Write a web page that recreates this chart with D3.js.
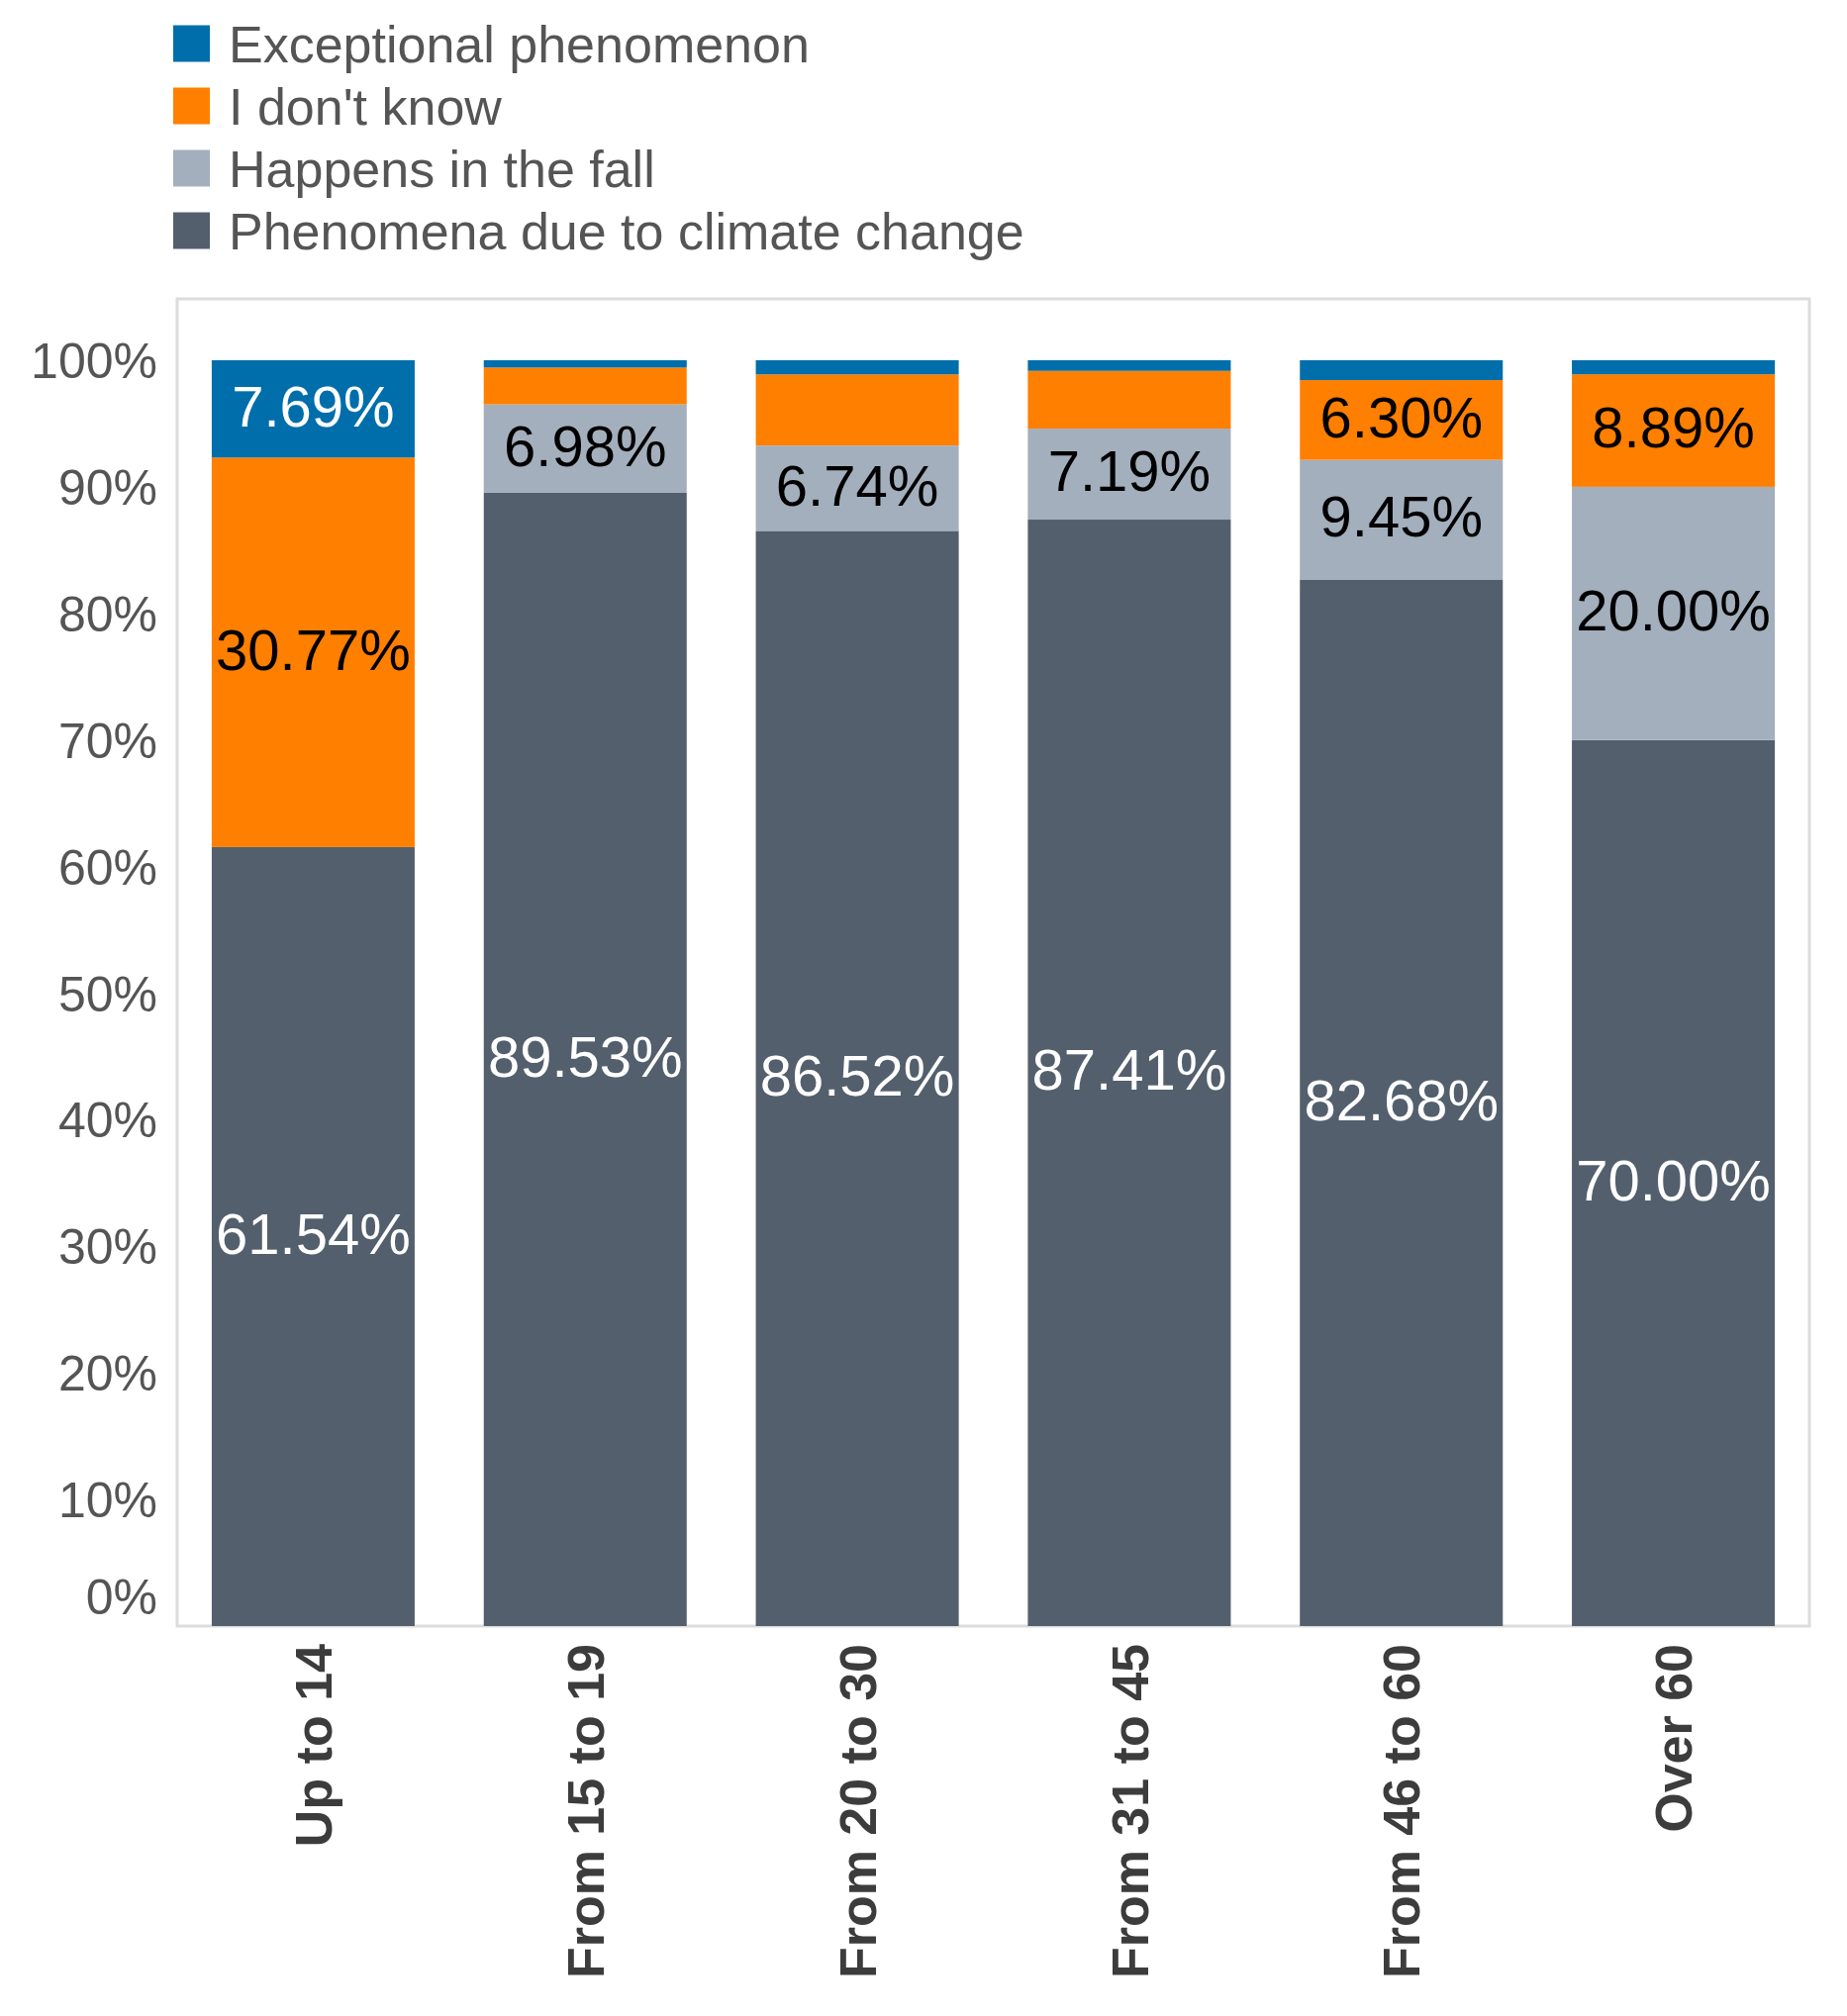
<!DOCTYPE html>
<html>
<head>
<meta charset="utf-8">
<script src="https://cdn.jsdelivr.net/npm/d3@7"></script>
<style>
  body { margin: 0; background: #fff; }
  text { font-family: "Liberation Sans", Arial, sans-serif; }
</style>
</head>
<body>
<svg id="chart" width="1866" height="2037"></svg>
<script>
// Age groups on the x axis
var ageGroups = ["Up to 14", "From 15 to 19", "From 20 to 30", "From 31 to 45", "From 46 to 60", "Over 60"];

// Series (bottom to top), values in percent
var seriesNames = ["Phenomena due to climate change", "Happens in the fall", "I don't know", "Exceptional phenomenon"];
var climateChange = [61.54, 89.53, 86.52, 87.41, 82.68, 70.00];
var inTheFall     = [0,     6.98,  6.74,  7.19,  9.45,  20.00];
var dontKnow      = [30.77, 2.91,  5.62,  4.56,  6.30,  8.89];
var exceptional   = [7.69,  0.58,  1.12,  0.84,  1.57,  1.11];

var yTicks = [0, 10, 20, 30, 40, 50, 60, 70, 80, 90, 100];

var colors = ["#535f6d", "#a3afbc", "#ff7f00", "#006eab"];
var labelColors = ["#ffffff", "#000000", "#000000", "#ffffff"];

var svg = d3.select("#chart");

// Plot area (matches the framed box)
var frame = {left: 179, right: 1828, top: 302, bottom: 1643};

var xScale = d3.scaleBand()
    .domain(ageGroups)
    .range([frame.left, frame.right])
    .paddingInner(0.254)
    .paddingOuter(0.127);

var yScale = d3.scaleLinear()
    .domain([0, 100])
    .range([frame.bottom, 364]);

// Build rows and stack them
var rows = ageGroups.map(function(g, i) {
    var r = {group: g};
    r[seriesNames[0]] = climateChange[i];
    r[seriesNames[1]] = inTheFall[i];
    r[seriesNames[2]] = dontKnow[i];
    r[seriesNames[3]] = exceptional[i];
    return r;
});
var stacked = d3.stack().keys(seriesNames)(rows);

// Frame
svg.append("rect")
    .attr("x", frame.left)
    .attr("y", frame.top)
    .attr("width", frame.right - frame.left)
    .attr("height", frame.bottom - frame.top)
    .attr("fill", "none")
    .attr("stroke", "#dcdcdc")
    .attr("stroke-width", 3);

// Bars
var layers = svg.append("g").selectAll("g")
    .data(stacked)
    .enter()
    .append("g")
    .attr("fill", function(d, i) { return colors[i]; });

layers.selectAll("rect")
    .data(function(d) { return d; })
    .enter()
    .append("rect")
    .attr("x", function(d) { return xScale(d.data.group); })
    .attr("width", xScale.bandwidth())
    .attr("y", function(d) { return yScale(d[1]); })
    .attr("height", function(d) { return yScale(d[0]) - yScale(d[1]); });

// Value labels (only segments big enough)
stacked.forEach(function(layer, li) {
    svg.append("g").selectAll("text")
        .data(layer.filter(function(d) { return d[1] - d[0] >= 6; }))
        .enter()
        .append("text")
        .attr("x", function(d) { return xScale(d.data.group) + xScale.bandwidth() / 2; })
        .attr("y", function(d) { return (yScale(d[0]) + yScale(d[1])) / 2; })
        .attr("dy", "0.3em")
        .attr("text-anchor", "middle")
        .attr("font-size", 58)
        .attr("fill", labelColors[li])
        .text(function(d) { return (d[1] - d[0]).toFixed(2) + "%"; });
});

// Y axis labels
var yAxisG = svg.append("g")
    .attr("transform", "translate(" + (frame.left - 20) + ",0)")
    .call(d3.axisLeft(yScale).tickValues(yTicks).tickSize(0).tickPadding(0)
        .tickFormat(function(d) { return d + "%"; }));
yAxisG.select(".domain").remove();
yAxisG.selectAll("text")
    .attr("font-size", 50)
    .attr("font-family", "Liberation Sans, Arial, sans-serif")
    .attr("fill", "#555555")
    .attr("dy", function(d) { return d === 0 ? "-0.25em" : "0.35em"; });

// X axis labels (rotated)
var xAxisG = svg.append("g")
    .attr("transform", "translate(0," + (frame.bottom + 18) + ")")
    .call(d3.axisBottom(xScale).tickSize(0).tickPadding(0));
xAxisG.select(".domain").remove();
xAxisG.selectAll("text")
    .attr("font-size", 52)
    .attr("font-weight", "bold")
    .attr("font-family", "Liberation Sans, Arial, sans-serif")
    .attr("fill", "#3c3c3c")
    .attr("text-anchor", "end")
    .attr("transform", "rotate(-90)")
    .attr("x", 0)
    .attr("y", 0)
    .attr("dy", "0.36em");

// Legend (top to bottom in reverse stack order)
var legendItems = seriesNames.slice().reverse();
var legendColors = colors.slice().reverse();
var legend = svg.append("g").selectAll("g")
    .data(legendItems)
    .enter()
    .append("g")
    .attr("transform", function(d, i) { return "translate(175," + (44 + i * 63) + ")"; });

legend.append("rect")
    .attr("x", 0)
    .attr("y", -18.5)
    .attr("width", 37)
    .attr("height", 37)
    .attr("fill", function(d, i) { return legendColors[i]; });

legend.append("text")
    .attr("x", 56)
    .attr("y", 0)
    .attr("dy", "0.36em")
    .attr("font-size", 52)
    .attr("fill", "#555555")
    .text(function(d) { return d; });
</script>
</body>
</html>
